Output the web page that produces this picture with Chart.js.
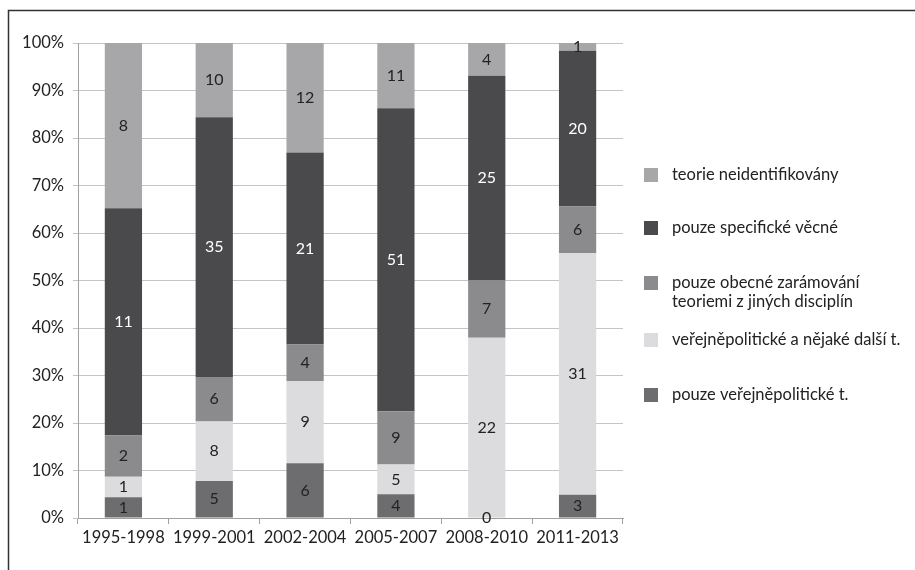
<!DOCTYPE html>
<html>
<head>
<meta charset="utf-8">
<script src="https://cdn.jsdelivr.net/npm/chart.js@4"></script>
<style>
  html, body { margin: 0; padding: 0; background: #fff; }
  #wrap { position: relative; width: 915px; height: 570px; }
</style>
</head>
<body>
<div id="wrap"><canvas id="myChart" width="915" height="570"></canvas></div>
<script>
// categories and series (counts), bottom to top of each bar
let periods = ["1995-1998", "1999-2001", "2002-2004", "2005-2007", "2008-2010", "2011-2013"]
let onlyPolicy = [1, 5, 6, 4, 0, 3]
let policyAndOther = [1, 8, 9, 5, 22, 31]
let onlyGeneral = [2, 6, 4, 9, 7, 6]
let onlySpecific = [11, 35, 21, 51, 25, 20]
let notIdentified = [8, 10, 12, 11, 4, 1]
let yTicks = [0, 10, 20, 30, 40, 50, 60, 70, 80, 90, 100]

let seriesNames = [
  "pouze veřejněpolitické t.",
  "veřejněpolitické a nějaké další t.",
  ["pouze obecné zarámování", "teoriemi z jiných disciplín"],
  "pouze specifické věcné",
  "teorie neidentifikovány"
]
let seriesValues = [onlyPolicy, policyAndOther, onlyGeneral, onlySpecific, notIdentified]
let colors = ["#6d6d6f", "#dcdcde", "#8b8b8d", "#4a4a4c", "#a7a7a9"]
let labelColors = ["#222", "#222", "#222", "#fff", "#222"]

// totals per period so each bar fills 100 %
let totals = periods.map((p, i) => seriesValues.reduce((s, arr) => s + arr[i], 0))

const FONT = "Lato, 'Open Sans', sans-serif"

// write the raw counts in the middle of each segment
const segmentLabels = {
  id: "segmentLabels",
  afterDatasetsDraw(chart) {
    let ctx = chart.ctx
    ctx.save()
    ctx.font = "16px " + FONT
    ctx.textAlign = "center"
    ctx.textBaseline = "middle"
    chart.data.datasets.forEach((ds, di) => {
      let meta = chart.getDatasetMeta(di)
      meta.data.forEach((bar, i) => {
        let y = (bar.y + bar.base) / 2
        ctx.fillStyle = labelColors[di]
        ctx.fillText(String(seriesValues[di][i]), bar.x, y)
      })
    })
    ctx.restore()
  }
}

// frame lines and legend at the right
const sideLegend = {
  id: "sideLegend",
  afterDraw(chart) {
    let ctx = chart.ctx
    ctx.save()
    ctx.strokeStyle = "#333"
    ctx.lineWidth = 1.5
    ctx.beginPath()
    ctx.moveTo(8.5, 570)
    ctx.lineTo(8.5, 10.5)
    ctx.lineTo(915, 10.5)
    ctx.stroke()

    let rows = [175, 228, 283, 340, 395]
    ctx.font = "16.5px " + FONT
    ctx.textBaseline = "middle"
    ctx.textAlign = "left"
    for (let k = 0; k < 5; k++) {
      let di = 4 - k
      let y = rows[k]
      ctx.fillStyle = colors[di]
      ctx.fillRect(644, y - 7, 14, 14)
      ctx.fillStyle = "#222"
      let txt = seriesNames[di]
      if (Array.isArray(txt)) {
        txt.forEach((line, n) => ctx.fillText(line, 672, y + n * 19))
      } else {
        ctx.fillText(txt, 672, y)
      }
    }
    ctx.restore()
  }
}

let ctx = document.getElementById("myChart").getContext("2d")

let myChart = new Chart(ctx, {
  type: "bar",
  data: {
    labels: periods,
    datasets: seriesValues.map((vals, di) => ({
      label: Array.isArray(seriesNames[di]) ? seriesNames[di].join(" ") : seriesNames[di],
      data: vals.map((v, i) => v / totals[i] * 100),
      backgroundColor: colors[di],
      borderWidth: 0,
      barPercentage: 0.41,
      categoryPercentage: 1
    }))
  },
  options: {
    responsive: false,
    animation: false,
    layout: { padding: { top: 43, right: 292, left: 0, bottom: 0 } },
    plugins: {
      legend: { display: false },
      tooltip: { enabled: false }
    },
    scales: {
      x: {
        stacked: true,
        grid: {
          offset: true,
          drawOnChartArea: false,
          drawTicks: true,
          tickLength: 6,
          color: "#a0a0a0"
        },
        border: { color: "#a0a0a0", width: 1 },
        ticks: { color: "#222", font: { family: FONT, size: 16.5 }, padding: 4, maxRotation: 0 },
        afterFit(scale) { scale.height = 52 }
      },
      y: {
        stacked: true,
        min: 0,
        max: 100,
        afterBuildTicks(scale) { scale.ticks = yTicks.map(v => ({ value: v })) },
        grid: { color: "#c4c4c4", tickLength: 5 },
        border: { color: "#a0a0a0", width: 1 },
        ticks: {
          color: "#222",
          font: { family: FONT, size: 16.5 },
          padding: 9,
          callback: v => v + "%"
        },
        afterFit(scale) { scale.width = 78 }
      }
    }
  },
  plugins: [segmentLabels, sideLegend]
})
</script>
</body>
</html>
